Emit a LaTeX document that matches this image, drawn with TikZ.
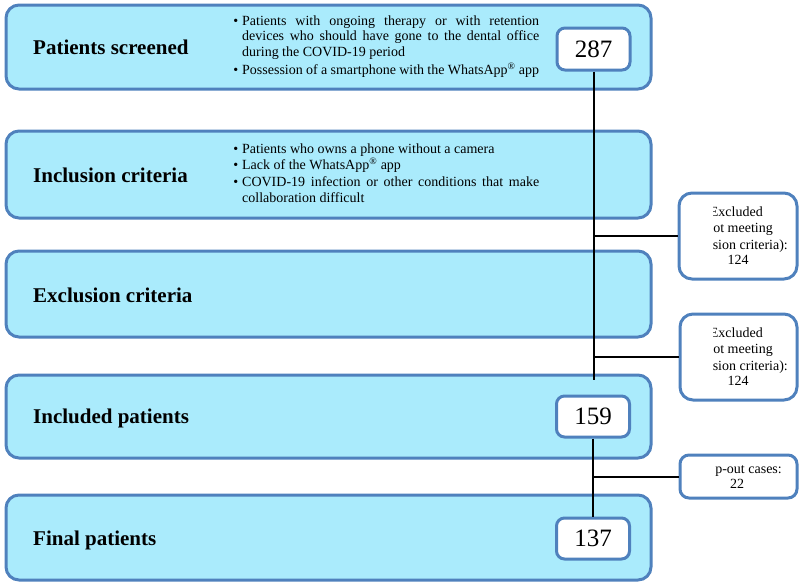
\documentclass[tikz,border=0pt]{standalone}
\usepackage{fontspec}
\setmainfont{Liberation Serif}
\definecolor{bfill}{HTML}{AAEBFC}
\definecolor{bline}{HTML}{4F81BD}
\begin{document}
\begin{tikzpicture}[x=1pt,y=-1pt,
  mainbox/.style={draw=bline, line width=3pt, fill=bfill, rounded corners=13pt, anchor=north west, inner sep=0pt, minimum width=645pt},
  numbox/.style={draw=bline, line width=3pt, fill=white, rounded corners=8pt, anchor=north west, inner sep=0pt, minimum width=73pt, font=\fontsize{25}{30}\selectfont},
  sidebox/.style={draw=bline, line width=3pt, fill=white, rounded corners=13pt, anchor=north west, inner sep=0pt},
  titletext/.style={anchor=base west, inner sep=0pt, font=\fontsize{21}{25}\selectfont\bfseries},
  crit/.style={anchor=north west, inner sep=0pt, text width=297pt, align=justify},
  sidetext/.style={anchor=base east, inner sep=0pt, font=\fontsize{14}{16}\selectfont},
  conn/.style={line width=2pt, draw=black}]
\useasboundingbox (0,0) rectangle (800,582);

% main boxes
\node[mainbox, minimum height=84pt] (b1) at (4.5,3.5) {};
\node[mainbox, minimum height=87pt] (b2) at (4.5,129.5) {};
\node[mainbox, minimum height=86pt] (b3) at (4.5,249.5) {};
\node[mainbox, minimum height=83pt] (b4) at (4.5,373.5) {};
\node[mainbox, minimum height=85pt] (b5) at (4.5,493.5) {};

% titles
\node[titletext] (t1) at (33,54) {Patients screened};
\node[titletext] (t2) at (33,182) {Inclusion criteria};
\node[titletext] (t3) at (33,302) {Exclusion criteria};
\node[titletext] (t4) at (33,423) {Included patients};
\node[titletext] (t5) at (33,545) {Final patients};

% criteria text
\node[crit, font=\fontsize{14}{15.5}\selectfont] (c1) at (242,15.5) {\noindent\llap{\textbullet\hspace{4pt}}Patients with ongoing therapy or with retention\linebreak devices who should have gone to the dental office\linebreak during the COVID-19 period\par\vspace{2.5pt}\noindent\llap{\textbullet\hspace{4pt}}Possession of a smartphone with the WhatsApp\textsuperscript{\textregistered} app};
\node[crit, font=\fontsize{14}{16.5}\selectfont] (c2) at (242,143.5) {\noindent\llap{\textbullet\hspace{4pt}}Patients who owns a phone without a camera\par\noindent\llap{\textbullet\hspace{4pt}}Lack of the WhatsApp\textsuperscript{\textregistered} app\par\noindent\llap{\textbullet\hspace{4pt}}COVID-19 infection or other conditions that make\linebreak collaboration difficult};

% number boxes
\node[numbox, minimum height=42pt] (n287) at (555.5,26.5) {287};
\node[numbox, minimum height=41pt] (n159) at (555,394.5) {159};
\node[numbox, minimum height=41pt] (n137) at (555,516.5) {137};

% side boxes
\node[sidebox, minimum width=118pt, minimum height=86pt] (sA) at (677.5,191.5) {};
\node[sidebox, minimum width=117pt, minimum height=86pt] (sB) at (678.5,312.5) {};
\node[sidebox, rounded corners=9pt, minimum width=117pt, minimum height=43pt] (sC) at (678.5,453.5) {};

% side texts (clipped as in the reference)
\begin{scope}
\clip (713,185) rectangle (797,420);
\node[sidetext] (a1) at (763,216) {Excluded};
\node[sidetext] (a2) at (773,232) {(not meeting};
\node[sidetext] (a3) at (788,249) {inclusion criteria):};
\node[sidetext, anchor=base] (a4) at (738,264) {124};
\node[sidetext] (e1) at (763,337) {Excluded};
\node[sidetext] (e2) at (773,353) {(not meeting};
\node[sidetext] (e3) at (788,370) {inclusion criteria):};
\node[sidetext, anchor=base] (e4) at (738,385) {124};
\end{scope}
\begin{scope}
\clip (715.5,455) rectangle (797,497);
\node[sidetext] (d1) at (782,473) {Drop-out cases:};
\node[sidetext, anchor=base] (d2) at (737,488) {22};
\end{scope}

% connectors
\coordinate (yv) at (0,380);
\coordinate (vend) at (n287.south |- yv);
\draw[conn] (n287.south) -- (vend);
\draw[conn] (n159.south) -- (n137.north);
\draw[conn] (sA.west -| n287.south) -- (sA.west);
\draw[conn] (sB.west -| n287.south) -- (sB.west);
\draw[conn] (sC.west -| n159.south) -- (sC.west);
\end{tikzpicture}
\end{document}
